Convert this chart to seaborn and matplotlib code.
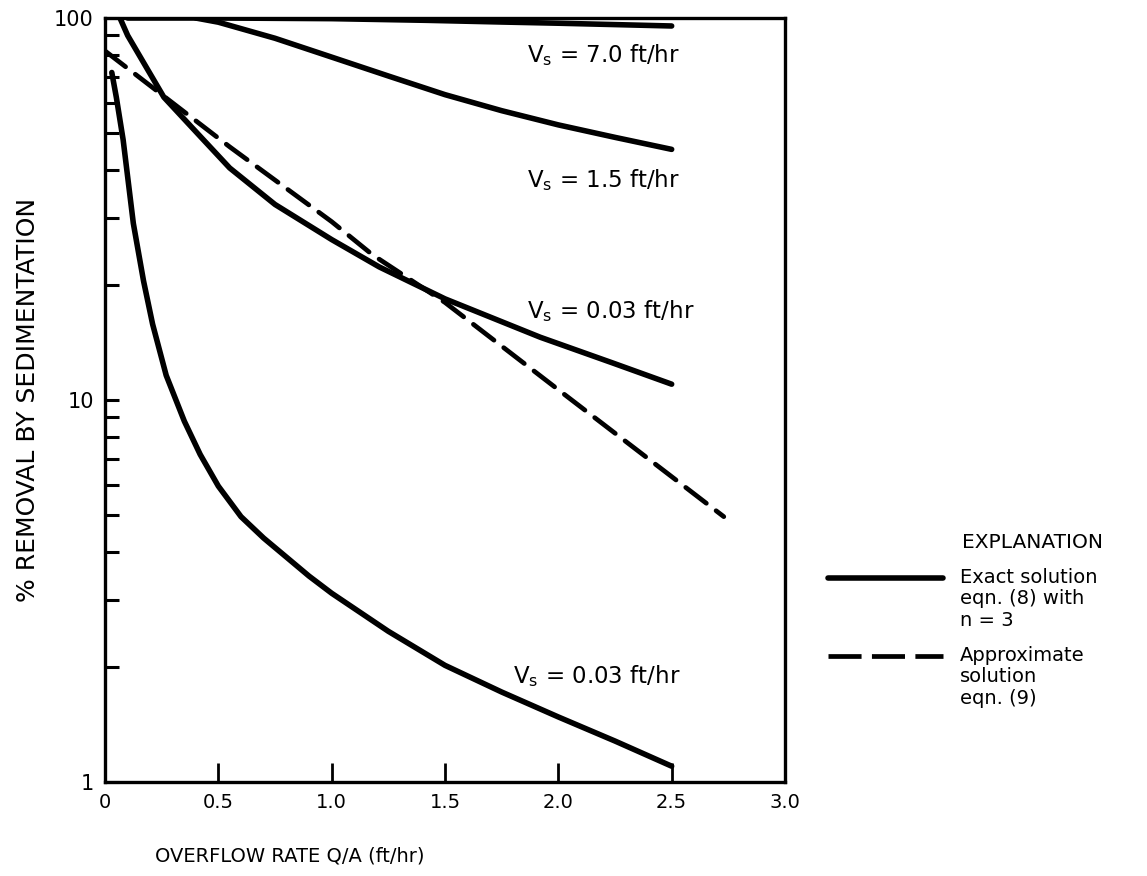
import numpy as np
import pandas as pd
import matplotlib
matplotlib.use("Agg")
import matplotlib.pyplot as plt
import seaborn as sns
from matplotlib.lines import Line2D
from matplotlib.ticker import LogLocator, NullFormatter, FixedLocator

# ---- data ----
x_vs70 = [0.10, 0.5, 1.0, 1.42, 1.75, 2.0, 2.25, 2.5]
y_vs70 = [100, 100, 99.6, 98.6, 97.6, 96.9, 96.1, 95.3]

x_vs15 = [0.40, 0.5, 0.75, 1.0, 1.25, 1.5, 1.75, 2.0, 2.25, 2.5]
y_vs15 = [100, 97.5, 88.5, 79, 70.5, 63, 57.2, 52.5, 48.7, 45.3]

x_vs03mid = [0.066, 0.10, 0.184, 0.26, 0.42, 0.55, 0.75, 1.0, 1.21, 1.5, 1.92, 2.24, 2.5]
y_vs03mid = [100, 90, 74, 62, 49, 40.5, 32.5, 26.3, 22.3, 18.4, 14.6, 12.5, 11.0]

x_vs003 = [0.03, 0.05, 0.08, 0.125, 0.17, 0.21, 0.27, 0.35, 0.42, 0.5, 0.6, 0.7, 0.8,
           0.9, 1.0, 1.25, 1.5, 1.75, 2.0, 2.25, 2.5]
y_vs003 = [72, 62, 48, 29, 20.5, 15.8, 11.6, 8.8, 7.2, 5.95, 4.95, 4.35, 3.88,
           3.46, 3.12, 2.48, 2.02, 1.72, 1.48, 1.28, 1.1]

x_approx = [0.0, 0.55, 1.0, 1.18, 1.5, 2.04, 2.5, 2.73]
y_approx = [82, 46, 29.3, 24, 18, 10.2, 6.3, 4.95]

curve_labels = ["7.0", "1.5", "0.03", "0.03"]
label_x = [1.86, 1.86, 1.86, 1.80]
label_y = [76.7, 36.1, 16.4, 1.82]

x_ticks = [0, 0.5, 1.0, 1.5, 2.0, 2.5, 3.0]
x_tick_labels = ["0", "0.5", "1.0", "1.5", "2.0", "2.5", "3.0"]
y_ticks = [1, 10, 100]
y_tick_labels = ["1", "10", "100"]

# ---- style ----
sns.set_style("ticks")
plt.rcParams["font.family"] = ["DejaVu Sans"]
plt.rcParams["mathtext.default"] = "regular"
for k in ["text.color", "axes.labelcolor", "xtick.color", "ytick.color", "axes.edgecolor"]:
    plt.rcParams[k] = "black"

fig = plt.figure(figsize=(11.47, 8.76), dpi=100)
ax = fig.add_axes([105 / 1147, 1 - 782 / 876, 680 / 1147, (782 - 18) / 876])

LW = 4.0
DASH = (0, (5.5, 2.6))
solid_series = [(x_vs70, y_vs70), (x_vs15, y_vs15), (x_vs03mid, y_vs03mid), (x_vs003, y_vs003)]
for xs, ys in solid_series:
    df = pd.DataFrame({"x": xs, "y": ys})
    sns.lineplot(data=df, x="x", y="y", ax=ax, color="black", lw=LW,
                 solid_capstyle="round", solid_joinstyle="round", sort=False)

df_a = pd.DataFrame({"x": x_approx, "y": y_approx})
sns.lineplot(data=df_a, x="x", y="y", ax=ax, color="black", lw=3.4,
             sort=False, linestyle=DASH, dash_capstyle="round")

ax.set_yscale("log")
ax.set_xlim(0, 3.0)
ax.set_ylim(1, 100)

ax.xaxis.set_major_locator(FixedLocator(x_ticks))
ax.set_xticklabels(x_tick_labels, fontsize=14)
ax.yaxis.set_major_locator(FixedLocator(y_ticks))
ax.set_yticklabels(y_tick_labels, fontsize=15)
ax.yaxis.set_minor_locator(LogLocator(base=10, subs=np.arange(2, 10)))
ax.yaxis.set_minor_formatter(NullFormatter())

ax.tick_params(axis="x", which="major", direction="in", length=14, width=2, pad=8,
               top=False)
ax.tick_params(axis="y", which="both", direction="in", length=10, width=2.2, pad=8,
               right=False)

for side in ["left", "right", "top", "bottom"]:
    ax.spines[side].set_visible(True)
    ax.spines[side].set_linewidth(2.4)
    ax.spines[side].set_color("black")

ax.set_xlabel("OVERFLOW RATE Q/A (ft/hr)", fontsize=14)
ax.xaxis.set_label_coords((290 - 105) / 680, (782 - 846) / 764)
ax.set_ylabel("% REMOVAL BY SEDIMENTATION", fontsize=18)
ax.yaxis.set_label_coords((40 - 105) / 680, 0.5)
ax.grid(False)

for lab, lx, ly in zip(curve_labels, label_x, label_y):
    ax.text(lx, ly, r"V$_{s}$ = " + lab + " ft/hr", fontsize=16.5,
            ha="left", va="baseline")

# ---- legend ("EXPLANATION") ----
fig.text(962 / 1147, 1 - 543 / 876, "EXPLANATION", fontsize=14.5, ha="left", va="center")
handles = [Line2D([], [], color="black", lw=LW, solid_capstyle="round"),
           Line2D([], [], color="black", lw=3.4, linestyle=(0, (7.0, 2.2)))]
labels = ["Exact solution\neqn. (8) with\nn = 3", "Approximate\nsolution\neqn. (9)"]
leg = fig.legend(handles, labels, loc="upper left",
                 bbox_to_anchor=(828 / 1147, 1 - 568 / 876),
                 frameon=False, fontsize=14, handlelength=5.9, handletextpad=0.9,
                 borderpad=0, borderaxespad=0, labelspacing=0.85)
for t in leg.get_texts():
    t.set_linespacing(1.15)
for ln in leg.get_lines():
    ln.set_ydata(np.asarray(ln.get_ydata(), dtype=float) + 15.8)

fig.savefig("out.png", dpi=100)
